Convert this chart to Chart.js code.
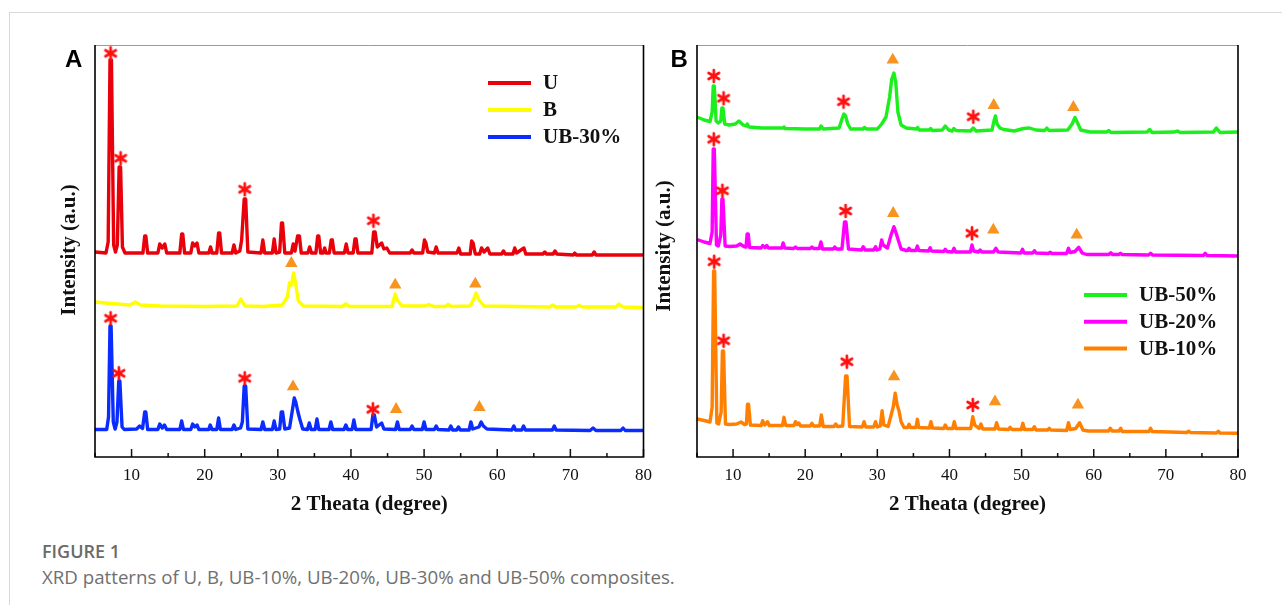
<!DOCTYPE html>
<html><head><meta charset="utf-8">
<script src="https://cdn.jsdelivr.net/npm/chart.js@4.4.0/dist/chart.umd.min.js"></script>
<style>
html,body{margin:0;padding:0;background:#fff;width:1282px;height:605px;overflow:hidden;}
#frame{position:absolute;left:9px;top:12px;width:1400px;height:700px;border:1px solid #d9d9d9;box-sizing:border-box;}
#wa{position:absolute;left:0;top:0;}
#wb{position:absolute;left:640px;top:0;}
.cap1{position:absolute;left:42px;top:539px;font:600 18px/25px "Open Sans";color:#6a6a6a;white-space:nowrap;}
.cap2{position:absolute;left:42px;top:564px;font:400 18.7px/26px "Open Sans";color:#707070;white-space:nowrap;}
</style></head>
<body>
<div id="frame"></div>
<canvas id="wa" width="660" height="530"></canvas>
<canvas id="wb" width="642" height="530"></canvas>
<div class="cap1">FIGURE 1</div>
<div class="cap2">XRD patterns of U, B, UB-10%, UB-20%, UB-30% and UB-50% composites.</div>
<script>
// ---------- data (x = 2θ in degrees, y = stacked intensity, a.u.) ----------
const xTickLabels = [10, 20, 30, 40, 50, 60, 70, 80];
const seriesNamesA = ['U', 'B', 'UB-30%'];
const seriesNamesB = ['UB-50%', 'UB-20%', 'UB-10%'];

const U = [5,205, 6.5,204, 6.8,215, 7.05,397, 7.25,397, 7.55,212, 7.8,205, 8.05,212, 8.3,290, 8.5,290, 8.75,210, 9.1,204,
 11.55,204, 11.8,221, 11.95,221, 12.2,204,
 13.6,204, 13.85,213, 14.2,209, 14.55,213, 14.8,204,
 16.6,204, 16.85,223, 17.0,223, 17.25,204,
 18.1,204, 18.35,214, 18.65,211, 18.95,214, 19.2,204,
 20.55,204, 20.8,210, 21.0,204,
 21.65,204, 21.9,224, 22.05,224, 22.3,204,
 23.75,204, 24.0,212, 24.25,204,
 24.8,206, 25.05,217, 25.4,258, 25.6,258, 25.9,205,
 27.7,204, 27.95,217, 28.2,204,
 29.25,204, 29.5,218, 29.75,204,
 30.25,205, 30.5,234, 30.65,234, 30.95,204,
 31.85,204, 32.1,213, 32.35,206, 32.7,221, 32.95,221, 33.2,204,
 34.1,204, 34.35,210, 34.6,204,
 35.2,204, 35.45,221, 35.6,221, 35.85,204,
 36.2,204, 36.4,209, 36.6,204,
 37.05,204, 37.3,217, 37.45,217, 37.7,204,
 39.1,204, 39.35,213, 39.6,204,
 40.3,204, 40.55,218, 40.7,218, 40.95,204,
 42.85,204, 43.1,225, 43.3,225, 43.6,210, 44.2,214, 44.5,208, 44.9,209, 45.3,204,
 48.1,204, 48.35,207, 48.6,204,
 49.8,204, 50.05,217, 50.25,214, 50.5,205,
 51.4,204, 51.65,210, 51.9,204,
 54.5,204, 54.75,209, 55.0,203,
 56.3,203, 56.5,216, 56.7,214, 57.0,203,
 57.6,203, 57.85,209, 58.2,205, 58.7,209, 59.0,203,
 60.6,203, 60.85,206, 61.1,203,
 62.15,203, 62.4,209, 62.65,204, 63.65,209, 63.9,203,
 66.25,203, 66.5,205, 66.75,203,
 67.65,203, 67.9,206, 68.15,203,
 70.4,202, 70.6,204, 70.8,202,
 73.0,202, 73.25,205, 73.5,202,
 80,202];

const B = [5,155, 8,153, 9.8,152, 10.5,155, 11.2,152, 14,151, 20,150.5, 24.4,151, 24.95,158, 25.5,151, 28,150.5,
 30.6,152, 31.3,160, 31.6,174, 31.85,172, 32.15,184, 32.4,175, 32.8,156, 33.5,151, 38.8,150.5, 39.3,153, 39.8,150.5,
 45.6,150.5, 46.05,163, 46.4,156, 47,151, 50,151, 50.65,152.5, 51.3,150.5, 52.9,150.5, 53.3,152.5, 53.7,150.5,
 56.3,151, 56.8,158, 57.1,164, 57.5,157, 58.2,151, 67.2,150, 67.56,152, 68,150, 70.7,150, 71.2,151.5, 71.7,150,
 76.2,150, 76.65,153, 77.2,150, 80,149.5];

const UB30 = [5,27.5, 6.6,27.5, 6.85,40, 7.05,131, 7.2,131, 7.5,35, 7.75,28, 8.0,35, 8.25,76, 8.4,76, 8.7,30, 9.0,27.5,
 10.7,28, 11.1,31, 11.5,28.5, 11.8,45, 11.95,45, 12.2,27.5,
 13.6,27.5, 13.85,33, 14.2,29, 14.5,32, 14.8,27.5,
 16.6,27.5, 16.85,36, 17.1,27.5,
 18.1,27.5, 18.35,33, 18.65,30, 18.95,32, 19.2,27.5,
 20.55,27.5, 20.75,32, 21.0,27.5,
 21.65,27.5, 21.9,39, 22.15,27.5,
 23.75,27.5, 24.0,32, 24.25,27.5,
 24.9,29, 25.15,35, 25.4,71, 25.6,71, 25.9,28,
 27.7,27.5, 27.95,35, 28.2,27.5,
 29.25,27.5, 29.5,36, 29.75,27.5,
 30.25,28, 30.47,45, 30.65,45, 30.95,28, 31.6,29, 31.95,45, 32.25,59, 32.45,55, 32.75,45, 33.0,38, 33.4,28,
 34.05,27.5, 34.3,34, 34.55,27.5,
 35.1,27.5, 35.35,38, 35.6,27.5,
 37.0,27.5, 37.25,35, 37.5,27.5,
 39.05,27.5, 39.3,32, 39.55,27.5,
 40.15,27.5, 40.4,37, 40.65,27.5,
 42.75,27.5, 43.0,42, 43.2,42, 43.5,30, 44.2,34, 44.5,28,
 46.1,27.5, 46.35,35, 46.6,27.5,
 48.1,27.5, 48.35,31, 48.6,27.5,
 49.75,27.5, 50.0,35, 50.25,27.5,
 51.4,27.5, 51.65,31, 51.9,27.5,
 53.4,27, 53.65,31, 53.9,27,
 54.45,27, 54.7,30, 54.95,27,
 56.15,27, 56.4,35, 56.65,28, 57.5,30, 57.8,35, 58.1,31, 58.6,28,
 62.0,27, 62.27,31, 62.5,27,
 63.35,27, 63.6,31, 63.85,27,
 67.55,27, 67.8,31, 68.05,27,
 72.7,26.5, 73.1,29, 73.5,26.5,
 76.9,26.5, 77.2,29, 77.5,26.5,
 80,26.5];

const UB50 = [5,340, 6.0,337, 6.8,335.5, 7.1,345, 7.25,371, 7.4,371, 7.65,336, 7.95,334, 8.3,336, 8.45,349, 8.6,349, 8.85,333, 9.5,332,
 10.3,333, 10.8,336, 11.4,332, 11.8,331, 11.95,333, 12.2,330,
 14,329, 17.0,329, 17.06,330, 17.2,328.5, 20,328, 22.0,328, 22.2,331, 22.5,328, 24.7,329, 25.1,338, 25.35,343, 25.6,341, 25.9,333, 26.3,328,
 28.0,328, 28.2,329.5, 28.5,328, 30.0,328, 30.6,333, 31.2,340, 31.7,360, 32.0,378, 32.3,384, 32.55,375, 32.85,345, 33.3,332, 34.0,329,
 35.4,328, 35.6,329.5, 35.8,327, 37.2,327, 37.4,328.5, 37.6,326.5, 39.0,327, 39.42,331, 39.9,327, 40.4,326, 40.6,328.5, 40.9,326.5,
 42.9,326, 43.3,329, 43.7,326, 45.9,327, 46.2,337, 46.37,341, 46.6,333, 47.0,329, 47.5,327.5, 49,326, 50.24,328.5, 51.1,329, 52,327,
 53.2,326.5, 53.5,329, 53.8,326.5, 56.4,327, 57.0,333, 57.4,339.5, 57.7,335, 58.2,327, 59.5,325,
 61.8,325, 62.07,326.5, 62.4,324.5, 67.4,325, 67.77,327.5, 68.1,324.5, 71.2,325, 71.6,326, 72.0,324.5, 76.6,325, 77.0,329, 77.5,324.5, 80,325];

const UB20 = [5,217.5, 6.0,215, 6.8,213.5, 7.1,225, 7.25,308, 7.4,308, 7.7,212, 7.95,211, 8.3,222, 8.45,258, 8.6,258, 8.9,211, 9.5,210.5,
 10.5,211, 10.97,213, 11.5,210.5, 11.8,210, 11.95,223, 12.1,223, 12.3,209.5,
 13.9,209, 14.1,211.5, 14.4,209.5, 14.67,211.5, 14.9,209,
 16.75,209, 16.94,214, 17.15,209,
 18.4,208.5, 18.65,210, 18.9,208.5,
 20.7,208.5, 20.93,210, 21.15,208.5,
 21.95,208.5, 22.18,215, 22.4,208,
 23.9,208, 24.1,210, 24.3,208,
 25.1,208, 25.45,235, 25.65,235, 26.0,208,
 27.8,207, 28.04,210.3, 28.3,207,
 29.5,207, 29.75,210.3, 29.95,207, 30.35,208, 30.6,217, 30.8,212, 31.4,209, 31.9,222, 32.3,230.3, 32.6,224, 32.9,217, 33.3,208, 34.0,206.5,
 34.2,206.5, 34.4,208.7, 34.6,206.5,
 35.35,206.5, 35.55,211, 35.75,206.5,
 37.1,206, 37.32,209.3, 37.5,206,
 39.2,205.5, 39.42,207.7, 39.65,205.5,
 40.4,205, 40.62,208.7, 40.85,205,
 42.9,205, 43.12,212, 43.35,206, 44.0,205, 44.26,207, 44.5,205,
 46.1,205, 46.43,208.7, 46.75,205,
 49.9,204, 50.13,207.7, 50.35,204,
 51.55,204, 51.78,206.3, 52.0,204,
 53.7,203.5, 53.94,204.7, 54.2,203.5,
 56.25,203.5, 56.5,208.7, 56.75,204.5, 57.4,205.5, 57.92,209.7, 58.4,204, 59.0,202.5,
 62.1,202.5, 62.36,204.3, 62.6,202.5,
 63.45,202.5, 63.7,203.7, 63.95,202.5,
 67.6,202, 67.88,203.7, 68.15,202,
 75.2,201.5, 75.45,203.7, 75.7,201.5,
 80,201];

const UB10 = [5,38, 6.0,36.5, 6.8,35, 7.1,50, 7.3,186, 7.45,186, 7.75,34, 8.0,33, 8.35,45, 8.52,106, 8.68,106, 8.95,33, 9.5,32.5,
 10.5,33, 11.1,35, 11.6,32.5, 11.85,33, 12.0,52.7, 12.15,52.7, 12.4,32,
 13.9,31.5, 14.1,36.3, 14.4,32, 14.78,35.3, 15.0,31.5,
 16.85,31.5, 17.06,39.7, 17.3,31.5,
 18.45,31.5, 18.65,35.3, 18.9,32.5, 19.1,34, 19.35,31,
 20.7,31, 20.93,33.7, 21.15,31,
 22.0,31, 22.24,42, 22.5,30.5,
 24.0,30.5, 24.23,33, 24.45,30.5,
 25.2,31, 25.6,81, 25.8,81, 26.15,30.5,
 27.9,30, 28.16,35.3, 28.4,30,
 29.5,30, 29.75,35.3, 30.0,30, 30.4,31, 30.66,46.3, 30.9,32, 31.5,30.5, 32.2,50, 32.48,63.7, 32.75,52, 33.0,46.3, 33.3,35, 33.7,29.5,
 34.2,29.5, 34.4,32.7, 34.6,29.5,
 35.35,29.5, 35.55,37.7, 35.75,29.5,
 37.2,29, 37.43,35.3, 37.65,29,
 39.2,28.5, 39.42,32, 39.65,28.5,
 40.45,28.5, 40.67,35.3, 40.9,28.5,
 42.95,28.5, 43.23,40.3, 43.5,32, 44.1,28.5, 44.37,33, 44.6,28,
 46.3,28, 46.54,34.3, 46.8,28,
 48.2,27.5, 48.42,29.7, 48.65,27.5,
 49.95,27.5, 50.18,33.7, 50.4,27.5,
 51.55,27.5, 51.77,30.3, 52.0,27,
 53.6,27, 53.82,28.7, 54.05,27,
 56.25,26.5, 56.5,34.3, 56.75,27.5, 57.5,28.5, 58.04,34.3, 58.5,27, 59.2,26,
 62.05,26, 62.3,28.7, 62.55,26,
 63.5,26, 63.73,28.7, 63.95,25.5,
 67.65,25.5, 67.88,28.7, 68.1,25.5,
 72.9,24.5, 73.17,25.8, 73.4,24.5,
 77.0,24, 77.27,25.8, 77.5,24,
 80,23.7];

// phase markers: asterisk = U phase, triangle = B phase
const starsA = [7.13,403.7, 8.5,298.7, 25.47,267.7, 43.07,236.3, 7.13,138.7, 8.27,83.7, 25.47,78.7, 43.0,47.7];
const trisA  = [31.85,193.7, 46.05,172, 57.0,173, 32.08,70.3, 46.17,47.7, 57.56,49.7];
const starsB = [7.33,381, 8.69,358.7, 25.31,355.3, 43.3,340.3, 7.33,317.7, 8.52,266.3, 25.6,246, 43.12,223.7, 7.38,195.3, 8.69,116.3, 25.77,95.3, 43.23,52];
const trisB  = [32.14,397, 46.14,351.7, 57.18,349.7, 32.2,243.7, 46.08,227, 57.64,222, 32.31,80.3, 46.31,55.3, 57.81,52];

// ---------- helpers ----------
function pairs(a){ const r=[]; for(let i=0;i<a.length;i+=2) r.push({x:a[i], y:a[i+1]}); return r; }

function makeStar(){
  const c=document.createElement('canvas'); c.width=16; c.height=16;
  const g=c.getContext('2d'); g.strokeStyle='#ff1010'; g.lineWidth=2.7; g.lineCap='round';
  for(let k=0;k<3;k++){
    const ang=Math.PI/2 + k*Math.PI/3, dx=Math.cos(ang)*6, dy=Math.sin(ang)*6;
    g.beginPath(); g.moveTo(8-dx,8-dy); g.lineTo(8+dx,8+dy); g.stroke();
  }
  return c;
}
const starImg = makeStar();

function lineDs(label, arr, color){
  return {label, data:pairs(arr), borderColor:color, backgroundColor:color, borderWidth:3.4,
    pointRadius:0, tension:0, borderJoinStyle:'round', order:2, isSeries:true};
}
function starDs(arr){ return {label:'*', data:pairs(arr), showLine:false, pointStyle:starImg, pointRadius:8, order:0}; }
function triDs(arr){ return {label:'tri', data:pairs(arr), showLine:false, pointStyle:'triangle', pointRadius:7.2,
  backgroundColor:'#f7931e', borderColor:'#f7931e', borderWidth:0, order:1}; }

const serif = '"Liberation Serif", "Times New Roman", serif';

function panelPlugin(p){
  return {
    id:'panel'+p.letter,
    afterDraw(chart){
      const ctx=chart.ctx, a=chart.chartArea, xs=chart.scales.x;
      ctx.save();
      // inward ticks
      ctx.strokeStyle='#111'; ctx.lineWidth=1.5;
      xs.ticks.forEach(t=>{
        const px=xs.getPixelForValue(t.value);
        const len = (t.value%10===0) ? 8 : 4;
        ctx.beginPath(); ctx.moveTo(px,a.bottom); ctx.lineTo(px,a.bottom-len); ctx.stroke();
      });
      // frame
      ctx.strokeStyle='#9a9a9a'; ctx.lineWidth=1;
      ctx.beginPath(); ctx.moveTo(a.left,a.top+0.5); ctx.lineTo(a.right,a.top+0.5); ctx.stroke();
      ctx.strokeStyle='#000'; ctx.lineWidth=1.6;
      ctx.beginPath(); ctx.moveTo(a.left,a.top); ctx.lineTo(a.left,a.bottom); ctx.lineTo(a.right,a.bottom); ctx.lineTo(a.right,a.top); ctx.stroke();
      // y title
      ctx.save();
      ctx.translate(a.left+p.yTitleDx, p.yTitleY); ctx.rotate(-Math.PI/2);
      ctx.fillStyle='#111'; ctx.font='bold 21px '+serif; ctx.textAlign='center'; ctx.textBaseline='middle';
      ctx.fillText('Intensity (a.u.)',0,0);
      ctx.restore();
      // panel letter
      ctx.fillStyle='#000'; ctx.font='bold 24px "Liberation Sans", Arial, sans-serif'; ctx.textAlign='left'; ctx.textBaseline='alphabetic';
      ctx.fillText(p.letter, p.letterX, 67);
      // legend
      const ds = chart.data.datasets.filter(d=>d.isSeries);
      ds.forEach((d,i)=>{
        const y = p.legY + i*p.legGap;
        ctx.strokeStyle=d.borderColor; ctx.lineWidth=4; ctx.lineCap='butt';
        ctx.beginPath(); ctx.moveTo(p.legX,y); ctx.lineTo(p.legX+43,y); ctx.stroke();
        ctx.fillStyle='#111'; ctx.font='bold 21px '+serif; ctx.textBaseline='middle';
        ctx.fillText(d.label, p.legX+55, y+1);
      });
      ctx.restore();
    }
  };
}

function makeChart(id, datasets, pad, plug){
  return new Chart(document.getElementById(id), {
    type:'line',
    data:{datasets},
    options:{
      responsive:false, animation:false, devicePixelRatio:1,
      layout:{padding:pad},
      plugins:{legend:{display:false}, tooltip:{enabled:false}},
      scales:{
        x:{type:'linear', min:5, max:80,
           afterFit(s){ s.height = 73; },
           grid:{display:false, drawTicks:false},
           border:{display:false},
           ticks:{stepSize:5, autoSkip:false, maxRotation:0, padding:8, color:'#111',
                  font:{family:serif, size:17},
                  callback:(v)=> xTickLabels.includes(v) ? String(v) : ''},
           title:{display:true, text:'2 Theata (degree)', color:'#111',
                  font:{family:serif, size:21, weight:'bold'}, padding:{top:0, bottom:13}}},
        y:{min:0, max:412, display:false}
      }
    },
    plugins:[plug]
  });
}

makeChart('wa', [
  lineDs(seriesNamesA[0], U, '#e8000b'),
  lineDs(seriesNamesA[1], B, '#ffff00'),
  lineDs(seriesNamesA[2], UB30, '#0a2cff'),
  starDs(starsA), triDs(trisA)
], {left:95, right:15, top:45, bottom:0},
  panelPlugin({letter:'A', letterX:65, yTitleDx:-25.6, yTitleY:250, legX:488, legY:83, legGap:27}));

makeChart('wb', [
  lineDs(seriesNamesB[0], UB50, '#1cf01c'),
  lineDs(seriesNamesB[1], UB20, '#ff00ff'),
  lineDs(seriesNamesB[2], UB10, '#ff8000'),
  starDs(starsB), triDs(trisB)
], {left:57, right:44, top:45, bottom:0},
  panelPlugin({letter:'B', letterX:30.5, yTitleDx:-32.4, yTitleY:246, legX:444, legY:295, legGap:26.7}));
</script>
</body></html>
